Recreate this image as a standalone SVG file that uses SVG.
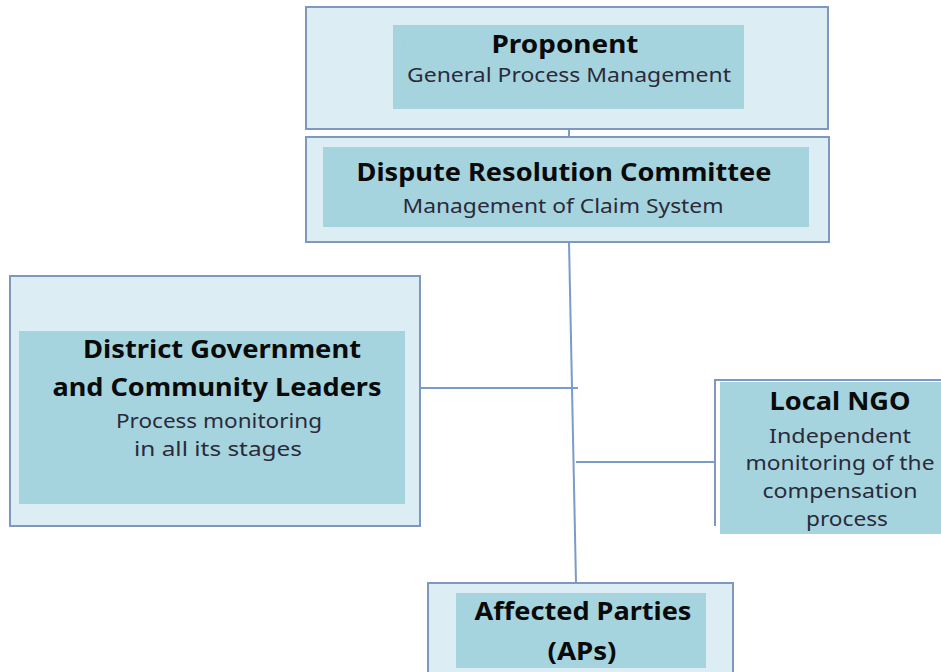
<svg xmlns="http://www.w3.org/2000/svg" width="941" height="672" viewBox="0 0 941 672">
<style>
.outer{fill:#DCEEF3;stroke:#7F98BE;stroke-width:2}
.inner{fill:#A6D4DE}
.t{font-family:"Noto Sans","Liberation Sans",sans-serif;font-weight:bold;font-size:25px;fill:#0a0a0a;text-anchor:middle}
.s{font-family:"Noto Sans","Liberation Sans",sans-serif;font-size:20px;fill:#2a2a3a;text-anchor:middle}
.ln{stroke:#7A9CCB;stroke-width:2;fill:none}
</style>
<rect width="941" height="672" fill="#ffffff"/>
<g id="connectors">
<line class="ln" x1="569" y1="129" x2="569" y2="137"/>
<line class="ln" x1="569" y1="242" x2="576" y2="583"/>
<line class="ln" x1="420" y1="388" x2="578" y2="388"/>
<line class="ln" x1="576" y1="462" x2="715" y2="462"/>
</g>
<g id="proponent">
<rect class="outer" x="306" y="7" width="522" height="122"/>
<rect class="inner" x="393" y="25" width="351" height="84"/>
<text x="402" y="44" font-family="Noto Sans,sans-serif" font-size="13" fill="#9ED3E6">P</text>
<text class="t" x="565" y="53" textLength="147" lengthAdjust="spacingAndGlyphs">Proponent</text>
<text class="s" x="569" y="82" textLength="324" lengthAdjust="spacingAndGlyphs">General Process Management</text>
</g>
<g id="dispute">
<rect class="outer" x="306" y="137" width="523" height="105"/>
<rect class="inner" x="323" y="147" width="486" height="80"/>
<text class="t" x="564" y="181" textLength="415" lengthAdjust="spacingAndGlyphs">Dispute Resolution Committee</text>
<text class="s" x="563" y="213" textLength="321" lengthAdjust="spacingAndGlyphs">Management of Claim System</text>
</g>
<g id="district">
<rect class="outer" x="10" y="276" width="410" height="250"/>
<rect class="inner" x="19" y="331" width="386" height="173"/>
<text class="t" x="222" y="358" textLength="278" lengthAdjust="spacingAndGlyphs">District Government</text>
<text class="t" x="217" y="396" textLength="329" lengthAdjust="spacingAndGlyphs">and Community Leaders</text>
<text class="s" x="219" y="428" textLength="206" lengthAdjust="spacingAndGlyphs">Process monitoring</text>
<text class="s" x="218" y="456" textLength="168" lengthAdjust="spacingAndGlyphs">in all its stages</text>
</g>
<g id="ngo">
<path d="M715 526 V380 H941" fill="none" stroke="#7F98BE" stroke-width="2"/>
<rect class="inner" x="720" y="382" width="221" height="152"/>
<text class="t" x="840" y="410" textLength="141" lengthAdjust="spacingAndGlyphs">Local NGO</text>
<text class="s" x="840" y="443" textLength="142" lengthAdjust="spacingAndGlyphs">Independent</text>
<text class="s" x="840" y="470" textLength="189" lengthAdjust="spacingAndGlyphs">monitoring of the</text>
<text class="s" x="840" y="498" textLength="155" lengthAdjust="spacingAndGlyphs">compensation</text>
<text class="s" x="847" y="526" textLength="82" lengthAdjust="spacingAndGlyphs">process</text>
</g>
<g id="affected">
<rect class="outer" x="428" y="583" width="305" height="95"/>
<rect class="inner" x="456" y="593" width="250" height="75"/>
<text class="t" x="583" y="620" textLength="217" lengthAdjust="spacingAndGlyphs">Affected Parties</text>
<text class="t" x="582" y="660" textLength="69" lengthAdjust="spacingAndGlyphs">(APs)</text>
</g>
</svg>
